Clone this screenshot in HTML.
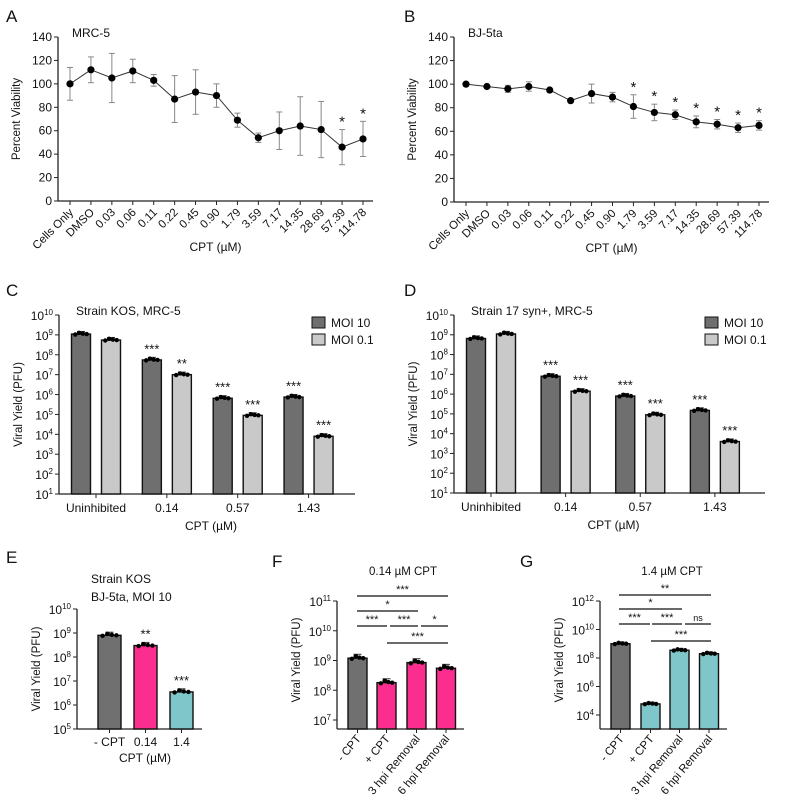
<!DOCTYPE html>
<html><head><meta charset="utf-8">
<style>
html,body{margin:0;padding:0;background:#fff;}
svg{display:block;font-family:"Liberation Sans",Arial,sans-serif;}
</style></head>
<body>
<svg id="fig" width="787" height="801" viewBox="0 0 787 801" xmlns="http://www.w3.org/2000/svg"></svg>
<script>
// ---- data ----
const doseLabels = ["Cells Only","DMSO","0.03","0.06","0.11","0.22","0.45","0.90","1.79","3.59","7.17","14.35","28.69","57.39","114.78"];
const mrcMean = [100,112,105,111,103,87,93,90,69,54,60,64,61,46,53];
const mrcErr  = [14,11,21,10,5,20,19,10,6,4,16,25,24,15,15];
const mrcSig  = ["","","","","","","","","","","","","","*","*"];
const bjMean  = [100,98,96,98,95,86,92,89,81,76,74,68,66,63,65];
const bjErr   = [1,1,3,4,1,1,8,4,10,7,4,5,4,4,4];
const bjSig   = ["","","","","","","","","*","*","*","*","*","*","*"];
const moiCats = ["Uninhibited","0.14","0.57","1.43"];
const kosMoi10 = [1.1e9,5.5e7,6.5e5,7.5e5];
const kosMoi01 = [5.5e8,1.0e7,9e4,8e3];
const kosSig10 = ["","***","***","***"];
const kosSig01 = ["","**","***","***"];
const synMoi10 = [6.5e8,8e6,8e5,1.5e5];
const synMoi01 = [1.1e9,1.4e6,9e4,4e3];
const synSig10 = ["","***","***","***"];
const synSig01 = ["","***","***","***"];
const eCats = ["- CPT","0.14","1.4"];
const eVals = [8e8,3e8,3.5e6];
const eSig  = ["","**","***"];
const fgCats = ["- CPT","+ CPT","3 hpi Removal","6 hpi Removal"];
const fVals = [1.2e9,1.8e8,8.5e8,5.5e8];
const gVals = [1e9,6e4,3.5e8,2e8];

const NS="http://www.w3.org/2000/svg";
const svg=document.getElementById('fig');
function mk(tag,attrs,parent){const e=document.createElementNS(NS,tag);for(const k in attrs)e.setAttribute(k,attrs[k]);(parent||svg).appendChild(e);return e;}
function txt(s,x,y,size,anchor,parent,extra){const t=mk('text',Object.assign({x:x,y:y,'font-size':size,'text-anchor':anchor||'start',fill:'#111'},extra||{}),parent);t.textContent=s;return t;}
function pow10(x,y,exp,parent){const t=mk('text',{x:x,y:y,'font-size':12,'text-anchor':'end',fill:'#111'},parent);
  const a=mk('tspan',{},t);a.textContent='10';const b=mk('tspan',{dy:-5,'font-size':8},t);b.textContent=String(exp);return t;}

function panelLetter(s,x,y){const t=txt(s,x,y,17,'start');}

// ---- line chart ----
function lineChart(id,ax,y0,y140,xFirst,xLast,xEnd,means,errs,sigs,title){
  const g=mk('g',{});
  
  
  const ys=v=>y0+(y140-y0)*v/140;
  const step=(xLast-xFirst)/(doseLabels.length-1);
  const xs=i=>xFirst+i*step;
  mk('line',{x1:ax,y1:y140,x2:ax,y2:y0,stroke:'#222','stroke-width':1.3},g);
  mk('line',{x1:ax,y1:y0,x2:xEnd,y2:y0,stroke:'#222','stroke-width':1.3},g);
  for(let v=0;v<=140;v+=20){mk('line',{x1:ax-4,y1:ys(v),x2:ax,y2:ys(v),stroke:'#222'},g);txt(String(v),ax-6,ys(v)+4,12,'end',g);}
  const yt=txt('Percent Viability',0,0,11.5,'middle',g,{transform:`translate(${ax-38},${(y0+y140)/2}) rotate(-90)`});
  
  doseLabels.forEach((l,i)=>{const x=xs(i);mk('line',{x1:x,y1:y0,x2:x,y2:y0+4,stroke:'#222'},g);
    txt(l,0,0,11.5,'end',g,{transform:`translate(${x+4},${y0+12}) rotate(-45)`});});
  const xt=txt('CPT (µM)',(ax+xEnd)/2,y0+50,12,'middle',g);
  
  let d='';means.forEach((m,i)=>{d+=(i?'L':'M')+xs(i)+' '+ys(m);});
  mk('path',{d:d,fill:'none',stroke:'#333','stroke-width':1},g);
  means.forEach((m,i)=>{const x=xs(i);
    mk('line',{x1:x,y1:ys(m-errs[i]),x2:x,y2:ys(m+errs[i]),stroke:'#888','stroke-width':1},g);
    mk('line',{x1:x-3,y1:ys(m-errs[i]),x2:x+3,y2:ys(m-errs[i]),stroke:'#888'},g);
    mk('line',{x1:x-3,y1:ys(m+errs[i]),x2:x+3,y2:ys(m+errs[i]),stroke:'#888'},g);
    const c=mk('circle',{cx:x,cy:ys(m),r:3.6,fill:'#000'},g);
    
    
    if(sigs[i])txt(sigs[i],x,ys(m+errs[i])-3,15,'middle',g);
  });
  txt(title,xFirst+2,37,12,'start',g);
}

// ---- log bar helpers ----
function logAxis(g,ax,yTop,topExp,decPx,yBottom,xEnd,tickStep,minExp,ylabelX,ylabelCy){
  const ys=v=>yTop+(topExp-Math.log10(v))*decPx;
  mk('line',{x1:ax,y1:yTop,x2:ax,y2:yBottom,stroke:'#222','stroke-width':1.3},g);
  mk('line',{x1:ax,y1:yBottom,x2:xEnd,y2:yBottom,stroke:'#222','stroke-width':1.3},g);
  for(let e=topExp;e>=minExp;e-=tickStep){const y=yTop+(topExp-e)*decPx;mk('line',{x1:ax-4,y1:y,x2:ax,y2:y,stroke:'#222'},g);pow10(ax-6,y+5,e,g);}
  const yt=txt('Viral Yield (PFU)',0,0,11.5,'middle',g,{transform:`translate(${ylabelX},${ylabelCy}) rotate(-90)`});
  
  return ys;
}
function bar(g,cx,w,val,ys,yBottom,fill,name,sig){
  const y=ys(val);
  const r=mk('rect',{x:cx-w/2,y:y,width:w,height:yBottom-y,fill:fill,stroke:'#111','stroke-width':1.4},g);
  
  
  const ye=ys(val*1.35);
  mk('line',{x1:cx,y1:ye,x2:cx,y2:y,stroke:'#333'},g);
  mk('line',{x1:cx-4,y1:ye,x2:cx+4,y2:ye,stroke:'#333'},g);
  const off=w*0.3;
  [[-off,0.95],[-off/3,1.15],[off/3,1.05],[off,1.0]].forEach(p=>mk('circle',{cx:cx+p[0],cy:ys(val*p[1]),r:2.2,fill:'#000'},g));
  if(sig)txt(sig,cx,ye-4,13,'middle',g);
}

function groupedChart(id,ax,xEnd,yTop,yBottom,d10,d01,s10,s01,title,legX,letter){
  const g=mk('g',{});
  
  
  const dec=(yBottom-yTop)/9;
  const ys=logAxis(g,ax,yTop,10,dec,yBottom,xEnd,1,1,ax-37,(yTop+yBottom)/2);
  const gw=(xEnd-ax-14)/4;
  moiCats.forEach((c,i)=>{const cx=ax+37+i*gw*1.005;
    mk('line',{x1:cx,y1:yBottom,x2:cx,y2:yBottom+4,stroke:'#222'},g);
    txt(c,cx,yBottom+18,12,'middle',g);
    bar(g,cx-15,19,d10[i],ys,yBottom,'#6f6f6f','bar-moi10-'+i,s10[i]);
    bar(g,cx+15,19,d01[i],ys,yBottom,'#c9c9c9','bar-moi01-'+i,s01[i]);
  });
  const xt=txt('CPT (µM)',(ax+xEnd)/2+4,yBottom+36,12,'middle',g);
  
  txt(title,ax+17,yTop,12,'start',g);
  const l1=mk('rect',{x:legX,y:yTop+2,width:13,height:11,fill:'#6f6f6f',stroke:'#111'},g);
  
  txt('MOI 10',legX+19,yTop+12,12,'start',g);
  const l2=mk('rect',{x:legX,y:yTop+19,width:13,height:11,fill:'#c9c9c9',stroke:'#111'},g);
  
  txt('MOI 0.1',legX+19,yTop+29,12,'start',g);
}

function removalChart(id,ax,xEnd,yTop,topExp,dec,yBottom,tickStep,minExp,vals,colors,centers,sigLines,title,titleX){
  const g=mk('g',{});
  
  
  const ys=logAxis(g,ax,yTop,topExp,dec,yBottom,xEnd,tickStep,minExp,ax-37,(yTop+yBottom)/2-5);
  fgCats.forEach((c,i)=>{const cx=centers[i];
    bar(g,cx,19,vals[i],ys,yBottom,colors[i],'bar-'+c.toLowerCase().replace(/[^a-z0-9]+/g,'-').replace(/^-|-$/g,''),'');
    mk('line',{x1:cx,y1:yBottom,x2:cx,y2:yBottom+4,stroke:'#222'},g);
    txt(c,0,0,11.5,'end',g,{transform:`translate(${cx+4},${yBottom+10}) rotate(-50)`});
  });
  sigLines.forEach(s=>{mk('line',{x1:s[0],y1:s[2],x2:s[1],y2:s[2],stroke:'#111','stroke-width':1.2},g);
    txt(s[3],(s[0]+s[1])/2,s[2]-3,s[3]==='ns'?9:11,'middle',g);});
  txt(title,titleX,575,11.5,'middle',g);
}

panelLetter('A',6,22);panelLetter('B',404,22);panelLetter('C',6,296);panelLetter('D',404,296);
panelLetter('E',6,563);panelLetter('F',272,567);panelLetter('G',520,567);

lineChart('mrc5-viability',58,201,37,70,363,373,mrcMean,mrcErr,mrcSig,'MRC-5');
lineChart('bj5ta-viability',454,202,37,466,759,769,bjMean,bjErr,bjSig,'BJ-5ta');

groupedChart('kos-mrc5',59,355,315,494,kosMoi10,kosMoi01,kosSig10,kosSig01,'Strain KOS, MRC-5',312,'C');
groupedChart('syn17-mrc5',454,765,315,493,synMoi10,synMoi01,synSig10,synSig01,'Strain 17 syn+, MRC-5',705,'D');

// E
(function(){
  const g=mk('g',{});
  
  
  const ys=logAxis(g,77,609,10,24,729,202,1,5,40,669);
  const cols=['#707070','#fb2d8e','#7ec6c9'];
  eCats.forEach((c,i)=>{const cx=109.5+i*36;
    bar(g,cx,23,eVals[i],ys,729,cols[i],'bar-e-'+i,eSig[i]);
    mk('line',{x1:cx,y1:729,x2:cx,y2:733,stroke:'#222'},g);
    txt(c,cx,746,12,'middle',g);});
  const xt=txt('CPT (µM)',145,762,12,'middle',g);
  
  txt('Strain KOS',91,583,12,'start',g);
  txt('BJ-5ta, MOI 10',91,601,12,'start',g);
})();

removalChart('cpt014',337,464,601,11,29.75,729,1,7,fVals,['#707070','#fb2d8e','#fb2d8e','#fb2d8e'],[357.5,386.5,416.5,446],
  [[357,448,596,'***'],[357,418,611,'*'],[357,387,626,'***'],[390,418,626,'***'],[421,448,626,'*'],[387,448,643,'***']],'0.14 µM CPT',403);
removalChart('cpt14',600,727,601,12,14.25,729,2,4,gVals,['#707070','#7ec6c9','#7ec6c9','#7ec6c9'],[620.5,650.5,679.5,709],
  [[619,711,595,'**'],[619,682,609,'*'],[619,650,624,'***'],[652,682,624,'***'],[685,711,624,'ns'],[651,711,641,'***']],'1.4 µM CPT',672);
</script>
</body></html>
